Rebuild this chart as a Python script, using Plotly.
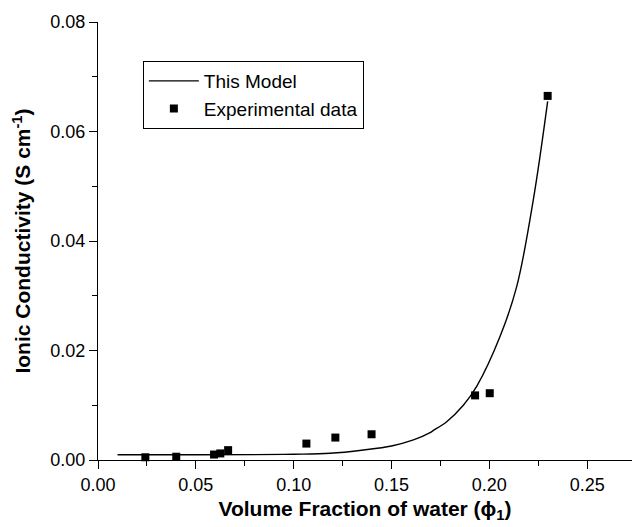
import plotly.graph_objects as go

exp_phi = [0.0242, 0.0400, 0.0593, 0.0625, 0.0665, 0.1065, 0.1213, 0.1398, 0.1927, 0.2002, 0.2298]
exp_sigma = [0.0005, 0.0006, 0.0010, 0.0012, 0.0018, 0.0030, 0.0041, 0.0047, 0.0118, 0.0122, 0.0665]

# Model curve
model_phi = [0.010, 0.050, 0.080, 0.100, 0.1186, 0.1357, 0.150, 0.1612, 0.1697, 0.1714,
             0.1782, 0.1867, 0.1936, 0.2055, 0.2140, 0.2225, 0.2298]
model_sigma = [0.00095, 0.00095, 0.00098, 0.00105, 0.00122, 0.00183, 0.00256, 0.00366, 0.0050, 0.0054,
               0.0070, 0.0100, 0.0135, 0.0226, 0.0317, 0.0476, 0.0655]

x_title = "Volume Fraction of water (ϕ<sub>1</sub>)"
y_title = "Ionic Conductivity (S cm<sup>-1</sup>)"
x_tick_vals = [0.00, 0.05, 0.10, 0.15, 0.20, 0.25]
x_tick_text = ["0.00", "0.05", "0.10", "0.15", "0.20", "0.25"]
y_tick_vals = [0.00, 0.02, 0.04, 0.06, 0.08]
y_tick_text = ["0.00", "0.02", "0.04", "0.06", "0.08"]

FONT = "Liberation Sans, Arial, sans-serif"

fig = go.Figure()
fig.add_trace(go.Scatter(
    x=model_phi, y=model_sigma, mode="lines", name="This Model",
    line=dict(color="black", width=1.4, shape="spline", smoothing=1.0),
    cliponaxis=False,
))
fig.add_trace(go.Scatter(
    x=exp_phi, y=exp_sigma, mode="markers", name="Experimental data",
    marker=dict(symbol="square", size=8, color="black", line=dict(width=0)),
    cliponaxis=False,
))

fig.update_layout(
    width=632, height=527,
    margin=dict(l=98, r=0, t=22, b=67),
    paper_bgcolor="white", plot_bgcolor="white",
    font=dict(family=FONT, size=18, color="black"),
    showlegend=True,
    legend=dict(
        x=0.084, y=0.911, xanchor="left", yanchor="top",
        bordercolor="black", borderwidth=1, bgcolor="white",
        font=dict(family=FONT, size=19, color="black"),
        itemwidth=50, traceorder="normal",
    ),
)
fig.update_xaxes(
    range=[0, 0.2729], showgrid=False, zeroline=False,
    showline=True, linecolor="black", linewidth=1.2,
    ticks="outside", ticklen=8, tickwidth=1.2, tickcolor="black",
    tickvals=x_tick_vals, ticktext=x_tick_text,
    minor=dict(ticks="outside", ticklen=5, tickwidth=1.2, tickcolor="black", dtick=0.025, showgrid=False),
    title=dict(text=x_title, font=dict(family=FONT, size=21, weight="bold"), standoff=7),
    tickfont=dict(family=FONT, size=18, color="black"),
)
fig.update_yaxes(
    range=[0, 0.08], showgrid=False, zeroline=False,
    showline=True, linecolor="black", linewidth=1.2,
    ticks="outside", ticklen=8, tickwidth=1.2, tickcolor="black",
    tickvals=y_tick_vals, ticktext=y_tick_text,
    minor=dict(ticks="outside", ticklen=5, tickwidth=1.2, tickcolor="black", dtick=0.01, showgrid=False),
    title=dict(text=y_title, font=dict(family=FONT, size=21, weight="bold"), standoff=13),
    tickfont=dict(family=FONT, size=18, color="black"),
)

fig.write_html("out.html")
